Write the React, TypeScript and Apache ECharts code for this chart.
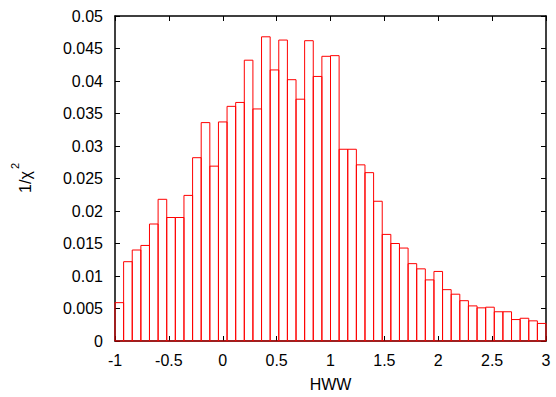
import React, { useEffect, useRef } from "react";
import * as echarts from "echarts";

const binStart = -1;
const binWidth = 0.08;
const values = [
  0.0059, 0.0122, 0.0140, 0.0147, 0.0180, 0.0218, 0.0190, 0.0190, 0.0224, 0.0282,
  0.0336, 0.0269, 0.0337, 0.0361, 0.0367, 0.0432, 0.0357, 0.0468, 0.0417, 0.0463,
  0.0402, 0.0372, 0.0462, 0.0407, 0.0438, 0.0439, 0.0295, 0.0295, 0.0271, 0.0259,
  0.0215, 0.0164, 0.0150, 0.0143, 0.0119, 0.0111, 0.0094, 0.0107, 0.0079, 0.0072,
  0.0062, 0.0054, 0.0051, 0.0052, 0.0045, 0.0045, 0.0033, 0.0035, 0.0031, 0.0027,
];
const xTitle = "HWW";
const yTitleMain = "1/χ";
const yTitleSup = "2";

const FONT = "'Liberation Sans', Arial, sans-serif";

export default function App() {
  const ref = useRef<HTMLDivElement>(null);
  useEffect(() => {
    if (!ref.current) return;
    const chart = echarts.init(ref.current, null, { renderer: "svg" });
    const data = values.map((v, i) => [
      binStart + i * binWidth,
      binStart + (i + 1) * binWidth,
      v,
    ]);
    const axisLine = { show: true, onZero: false, lineStyle: { color: "#000", width: 1.5 } };
    const tick = { show: true, inside: true, length: 5, lineStyle: { color: "#000", width: 1 } };
    const label = { color: "#000", fontSize: 16, fontFamily: FONT };
    chart.setOption({
      animation: false,
      grid: { left: 115, right: 10, top: 16, bottom: 54, containLabel: false },
      xAxis: [
        {
          type: "value",
          min: -1,
          max: 3,
          interval: 0.5,
          position: "bottom",
          axisLine,
          axisTick: tick,
          splitLine: { show: false },
          axisLabel: { ...label, margin: 11, formatter: (v: number) => String(parseFloat(v.toFixed(2))) },
          name: xTitle,
          nameLocation: "middle",
          nameGap: 35,
          nameTextStyle: { ...label },
        },
        {
          type: "value",
          min: -1,
          max: 3,
          interval: 0.5,
          position: "top",
          axisLine,
          axisTick: tick,
          splitLine: { show: false },
          axisLabel: { show: false },
        },
      ],
      yAxis: [
        {
          type: "value",
          min: 0,
          max: 0.05,
          interval: 0.005,
          position: "left",
          axisLine,
          axisTick: tick,
          splitLine: { show: false },
          axisLabel: { ...label, margin: 12, formatter: (v: number) => String(parseFloat(v.toFixed(3))) },
        },
        {
          type: "value",
          min: 0,
          max: 0.05,
          interval: 0.005,
          position: "right",
          axisLine,
          axisTick: tick,
          splitLine: { show: false },
          axisLabel: { show: false },
        },
      ],
      graphic: [
        {
          type: "text",
          x: 25,
          y: 182,
          rotation: Math.PI / 2,
          style: { text: yTitleMain, fill: "#000", font: `16px ${FONT}`, align: "center", verticalAlign: "middle" },
        },
        {
          type: "text",
          x: 15,
          y: 166,
          rotation: Math.PI / 2,
          style: { text: yTitleSup, fill: "#000", font: `11px ${FONT}`, align: "center", verticalAlign: "middle" },
        },
      ],
      series: [
        {
          type: "custom",
          xAxisIndex: 0,
          yAxisIndex: 0,
          data,
          renderItem: (params: any, api: any) => {
            const p0 = api.coord([api.value(0), api.value(2)]);
            const p1 = api.coord([api.value(1), 0]);
            return {
              type: "rect",
              shape: { x: p0[0], y: p0[1], width: p1[0] - p0[0], height: p1[1] - p0[1] },
              style: { fill: "none", stroke: "#ff0000", lineWidth: 1 },
            };
          },
        },
      ],
    });
    return () => chart.dispose();
  }, []);
  return (
    <div
      ref={ref}
      style={{ position: "absolute", left: 0, top: 0, width: 556, height: 397 }}
    />
  );
}
